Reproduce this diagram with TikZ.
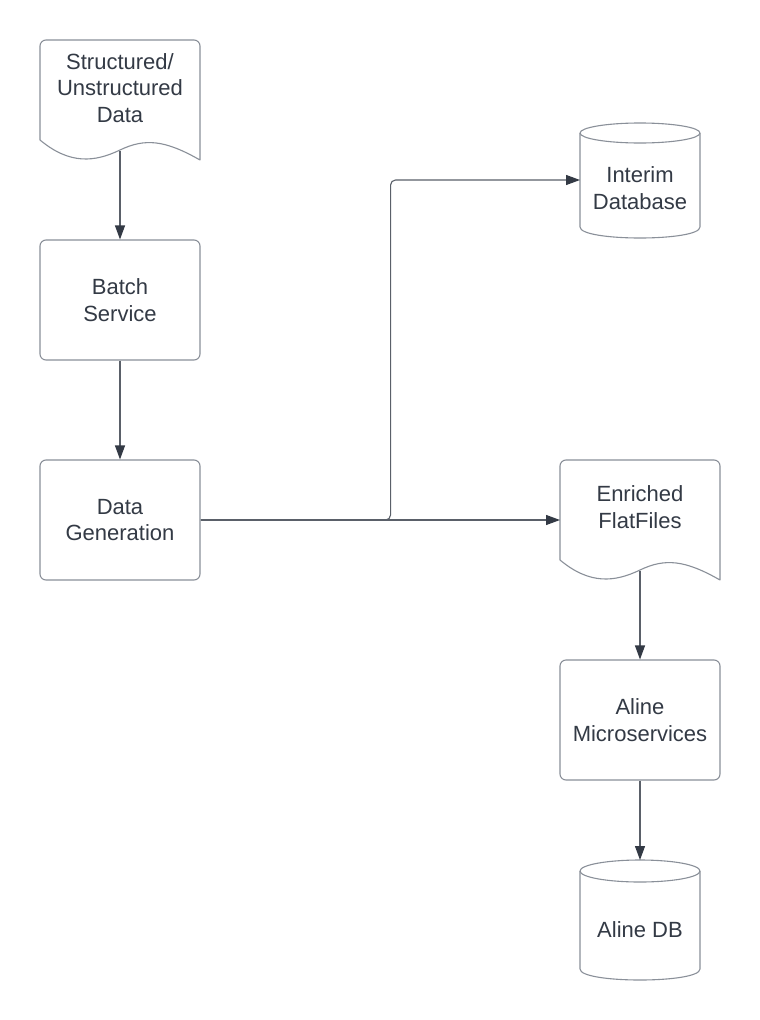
\documentclass[tikz,border=0pt]{standalone}
\usepackage{fontspec}
\setmainfont{Liberation Sans}
\usetikzlibrary{arrows.meta}
\definecolor{edge}{HTML}{8A9099}
\definecolor{ink}{HTML}{333A45}
\definecolor{wire}{HTML}{5A6069}
\begin{document}
\begin{tikzpicture}[x=1pt,y=-1pt,
  txt/.style={align=center, text=ink, inner sep=0pt, font=\fontsize{22}{26.5}\selectfont},
  box/.style={txt, draw=edge, line width=1.1pt, rounded corners=6pt, minimum width=160pt, minimum height=120pt},
  shp/.style={draw=edge, fill=white, line width=1.1pt, line join=round},
  conn/.style={draw=wire, line width=1.1pt, rounded corners=5pt, -{Triangle[length=14pt,width=10pt,color=ink]}}]
\useasboundingbox (0,0) rectangle (760,1020);
\fill[white] (0,0) rectangle (760,1020);

% Structured/Unstructured Data (document)
\draw[shp] (40,140) [rounded corners=6pt] -- (40,40) -- (200,40) [sharp corners] -- (200,160)
  .. controls (165,140) and (145,138) .. (120,150)
  .. controls (95,162) and (70,165) .. (40,140) -- cycle;
\node[txt] (src) at (120,88) {Structured/\\Unstructured\\Data};
\coordinate (srcout) at (120,151);

% Batch Service
\node[box] (batch) at (120,300) {Batch\\Service};

% Data Generation
\node[box] (gen) at (120,520) {Data\\Generation};

% Interim Database (cylinder)
\draw[shp] (580,133) -- (580,227) .. controls (580,241.67) and (700,241.67) .. (700,227) -- (700,133);
\draw[shp] (640,133) ellipse [x radius=60, y radius=10];
\node[txt] (interim) at (640,188) {Interim\\Database};
\coordinate (dbin) at (580,180);

% Enriched FlatFiles (document)
\draw[shp] (560,560) [rounded corners=6pt] -- (560,460) -- (720,460) [sharp corners] -- (720,580)
  .. controls (685,560) and (665,558) .. (640,570)
  .. controls (615,582) and (590,585) .. (560,560) -- cycle;
\node[txt] (flat) at (640,507) {Enriched\\FlatFiles};
\coordinate (ffin) at (560,520);
\coordinate (ffout) at (640,571);

% Aline Microservices
\node[box] (micro) at (640,720) {Aline\\Microservices};

% Aline DB (cylinder)
\draw[shp] (580,871) -- (580,969) .. controls (580,983.67) and (700,983.67) .. (700,969) -- (700,871);
\draw[shp] (640,871) ellipse [x radius=60, y radius=11];
\node[txt] (alinedb) at (640,930) {Aline DB};
\coordinate (adbin) at (640,860);

% Connectors
\draw[conn] (srcout) -- (batch.north);
\draw[conn] (batch.south) -- (gen.north);
\draw[conn] (gen.east) -- ++(190,0) |- (dbin);
\draw[conn] (gen.east) -- (ffin);
\draw[conn] (ffout) -- (micro.north);
\draw[conn] (micro.south) -- (adbin);
\end{tikzpicture}
\end{document}
